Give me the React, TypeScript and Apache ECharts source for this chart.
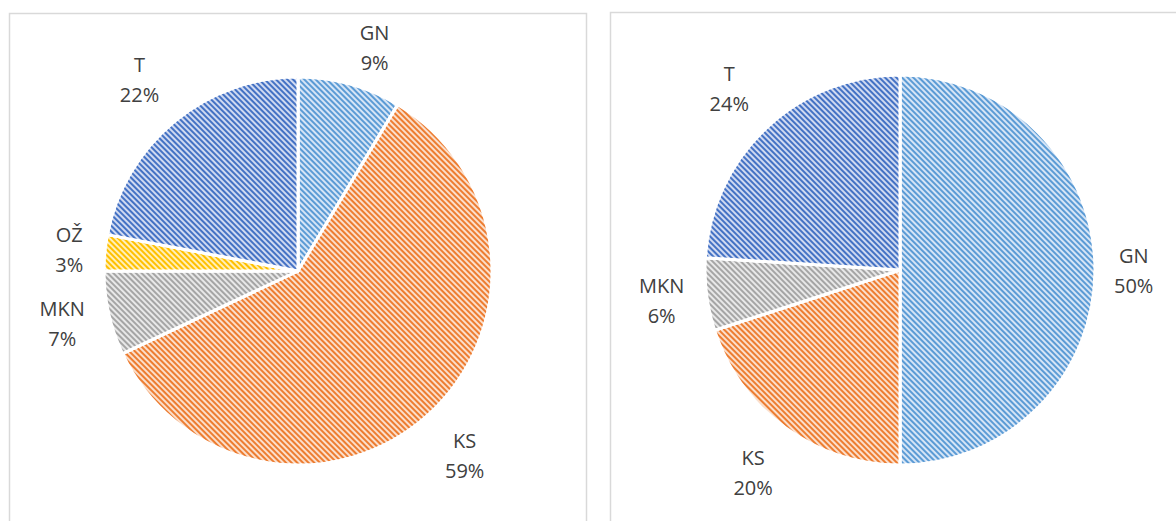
import React, { useEffect, useRef } from "react";
import * as echarts from "echarts";

// ---- data ----
const categories1 = ["GN", "KS", "MKN", "OŽ", "T"];
const values1 = [8.6, 59.4, 7.0, 3.0, 22.0];
const categories2 = ["GN", "KS", "MKN", "T"];
const values2 = [50, 20, 6, 24];

// ---- styles ----
const stripeColors: Record<string, string> = {
  GN: "#5B9BD5",
  KS: "#ED7D31",
  MKN: "#A5A5A5",
  "OŽ": "#FFC000",
  T: "#4472C4",
};
const bgColors: Record<string, string> = {
  GN: "#D6E5F6",
  KS: "#FBDFCC",
  MKN: "#E8E8E8",
  "OŽ": "#FFEFBA",
  T: "#D0DAF1",
};

const FONT = "'Open Sans', 'Noto Sans', sans-serif";

function midAngles(values: number[]) {
  const total = values.reduce((a, b) => a + b, 0);
  let acc = 0;
  return values.map((v) => {
    const m = ((acc + v / 2) / total) * Math.PI * 2;
    acc += v;
    return m;
  });
}

function makeSeries(
  cats: string[],
  vals: number[],
  cx: number,
  cy: number,
  r: number,
  minTop: number
) {
  const mids = midAngles(vals);
  const gap = 19;
  return {
    type: "pie",
    center: [cx, cy],
    radius: r,
    startAngle: 90,
    clockwise: true,
    percentPrecision: 0,
    avoidLabelOverlap: false,
    itemStyle: { borderColor: "#ffffff", borderWidth: 3 },
    label: {
      show: true,
      position: "outside",
      formatter: "{b}\n{d}%",
      fontFamily: FONT,
      fontSize: 20,
      lineHeight: 30,
      color: "#404040",
      align: "center",
    },
    labelLine: { show: false },
    emphasis: { disabled: true },
    labelLayout: (p: any) => {
      const a = mids[p.dataIndex];
      const sx = Math.sin(a);
      const sy = -Math.cos(a);
      const hw = p.labelRect.width / 2;
      const hh = p.labelRect.height / 2;
      const d = r + gap + Math.abs(sx) * hw + Math.abs(sy) * hh;
      let x = cx + sx * d;
      let y = cy + sy * d;
      if (y - hh < minTop) {
        const ny = minTop + hh;
        x += Math.sign(sx) * (ny - y) * 0.85;
        y = ny;
      }
      return { x, y, align: "center", verticalAlign: "middle" };
    },
    data: cats.map((c, i) => ({
      name: c,
      value: vals[i],
      itemStyle: {
        color: bgColors[c],
        decal: {
          symbol: "rect",
          symbolSize: 1,
          color: stripeColors[c],
          dashArrayX: [1, 0],
          dashArrayY: [2, 2],
          rotation: Math.PI / 4,
        },
      },
    })),
  };
}

export default function App() {
  const ref = useRef<HTMLDivElement>(null);
  useEffect(() => {
    document.body.style.margin = "0";
    if (!ref.current) return;
    const chart = echarts.init(ref.current, undefined, { renderer: "svg" });
    chart.setOption({
      animation: false,
      backgroundColor: "#ffffff",
      graphic: [
        {
          type: "rect",
          shape: { x: 9.5, y: 13.5, width: 577, height: 600 },
          style: { fill: "none", stroke: "#D9D9D9", lineWidth: 1.5 },
          silent: true,
        },
        {
          type: "rect",
          shape: { x: 610.5, y: 12.5, width: 700, height: 600 },
          style: { fill: "none", stroke: "#D9D9D9", lineWidth: 1.5 },
          silent: true,
        },
      ],
      series: [
        makeSeries(categories1, values1, 298, 271, 194, 17),
        makeSeries(categories2, values2, 900, 270, 195, 16),
      ],
    });
    return () => chart.dispose();
  }, []);
  return <div ref={ref} style={{ width: 1176, height: 521 }} />;
}
